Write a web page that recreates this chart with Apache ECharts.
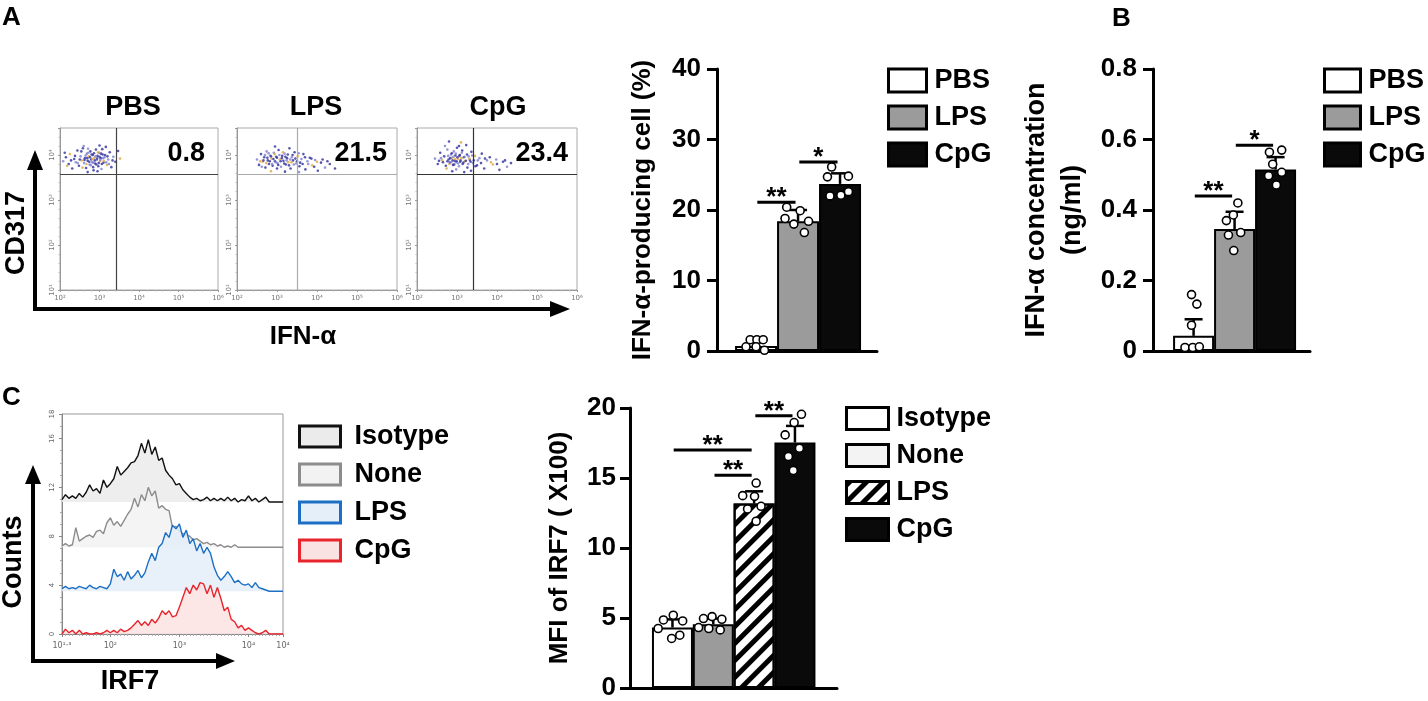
<!DOCTYPE html>
<html>
<head>
<meta charset="utf-8">
<script src="https://cdn.jsdelivr.net/npm/echarts@6.0.0/dist/echarts.min.js"></script>
<style>
* { margin: 0; padding: 0; }
body { background: #fff; width: 1428px; height: 701px; overflow: hidden; }
.layer { position: absolute; left: 0; top: 0; width: 1428px; height: 701px; }
</style>
</head>
<body>
<div id="flow" class="layer"></div>
<div id="barA" class="layer"></div>
<div id="barB" class="layer"></div>
<div id="hist" class="layer"></div>
<div id="barC" class="layer"></div>
<script>
var FONT = '"Liberation Sans", Arial, sans-serif';

// ---- A: flow plots (log10 units) ----
var flowGroups = ['PBS', 'LPS', 'CpG'];
var gatePct = ['0.8', '21.5', '23.4'];
var gateX = [3.42, 3.5, 3.4];
var gateY = 3.58;
var flowPbs = [[2.08,3.86],[2.15,3.95],[2.22,3.80],[2.25,4.02],[2.31,3.70],[2.36,3.91],[2.40,3.84],[2.44,4.10],[2.48,3.76],[2.52,3.97],
  [2.55,3.88],[2.58,4.15],[2.61,3.82],[2.63,3.93],[2.66,3.71],[2.68,4.03],[2.70,3.87],[2.73,3.97],[2.75,3.79],[2.77,4.08],
  [2.79,3.90],[2.81,3.84],[2.83,4.00],[2.85,3.66],[2.87,3.94],[2.89,3.81],[2.91,4.12],[2.93,3.89],[2.95,3.98],[2.97,3.75],
  [2.99,4.05],[3.01,3.86],[3.03,3.93],[3.05,3.69],[3.08,4.01],[3.10,3.83],[3.13,3.95],[3.16,4.18],[3.19,3.78],[3.22,3.90],
  [3.26,4.06],[3.30,3.73],[3.35,3.96],[3.40,3.85],[3.47,4.09],[3.52,3.92],[2.70,3.62],[2.95,3.64],[2.60,4.20],[3.00,4.21],
  [2.62,3.89],[2.65,3.99],[2.67,3.80],[2.69,3.93],[2.72,4.05],[2.74,3.85],[2.76,3.95],[2.78,3.77],[2.80,4.01],[2.82,3.91],
  [2.84,3.83],[2.86,4.04],[2.88,3.88],[2.90,3.97],[2.92,3.79],[2.94,3.92],[2.96,4.06],[2.98,3.82],[3.00,3.96],[3.02,3.89],
  [3.04,4.03],[3.06,3.80],[3.09,3.93],[3.11,3.87],[3.14,4.00],[3.17,3.84],[3.20,3.97],[2.50,3.90],[2.45,3.82],[2.38,3.98],
  [2.57,3.72],[2.71,4.14],[2.84,3.73],[3.07,4.13],[3.24,3.80],[3.33,3.88],[2.28,3.88],[2.18,3.76],[2.12,4.05],[2.54,4.08]];
var flowLps = [[2.50,3.90],[2.55,3.78],[2.60,4.02],[2.64,3.85],[2.68,3.95],[2.71,3.72],[2.74,4.08],[2.77,3.88],[2.80,3.80],[2.83,3.99],
  [2.86,3.92],[2.89,3.76],[2.92,4.05],[2.95,3.86],[2.98,3.96],[3.01,3.82],[3.04,4.11],[3.07,3.90],[3.10,3.74],[3.13,3.98],
  [3.16,3.87],[3.19,4.03],[3.22,3.79],[3.25,3.93],[3.28,3.84],[3.31,4.15],[3.34,3.70],[3.37,3.95],[3.40,3.88],[3.44,4.06],
  [3.48,3.81],[3.52,3.97],[3.56,3.75],[3.61,3.91],[3.66,4.02],[3.71,3.68],[3.76,3.86],[3.82,3.94],[3.88,3.77],[3.95,3.89],
  [4.02,3.65],[4.10,3.83],[4.20,3.72],[4.32,3.80],[4.45,3.70],[2.85,3.64],[3.20,3.63],[2.95,4.19],[3.55,3.62],[3.00,3.70],
  [2.66,3.88],[2.70,4.00],[2.73,3.82],[2.76,3.94],[2.79,4.04],[2.82,3.86],[2.85,3.97],[2.88,3.80],[2.91,3.91],[2.94,4.02],
  [2.97,3.84],[3.00,3.94],[3.03,3.78],[3.06,4.00],[3.09,3.86],[3.12,3.93],[3.15,4.06],[3.18,3.81],[3.21,3.96],[3.24,3.88],
  [3.27,4.01],[3.30,3.77],[3.33,3.90],[3.36,3.84],[3.39,4.00],[3.42,3.79],[3.46,3.92],[3.50,3.86],[3.54,4.04],[3.58,3.83],
  [2.58,3.86],[2.62,3.74],[3.64,3.80],[3.70,3.95],[3.78,3.80],[3.86,3.92],[3.93,3.74],[4.00,3.85],[4.14,3.90],[4.26,3.86]];
var flowCpg = [[2.45,3.92],[2.52,3.80],[2.58,4.05],[2.63,3.88],[2.68,3.97],[2.72,3.76],[2.76,4.12],[2.79,3.90],[2.82,3.83],[2.85,4.01],
  [2.87,3.94],[2.90,3.78],[2.92,4.08],[2.94,3.87],[2.96,3.99],[2.98,3.84],[3.00,4.16],[3.02,3.91],[3.05,3.75],[3.07,4.00],
  [3.09,3.88],[3.12,4.05],[3.14,3.80],[3.17,3.95],[3.20,3.86],[3.23,4.22],[3.26,3.72],[3.29,3.97],[3.32,3.89],[3.36,4.07],
  [3.40,3.82],[3.45,3.98],[3.50,3.77],[3.56,3.93],[3.62,4.03],[3.68,3.70],[3.75,3.88],[3.82,3.95],[3.90,3.79],[3.98,3.90],
  [4.06,3.67],[4.15,3.85],[4.25,3.74],[4.35,3.82],[2.80,4.30],[3.10,4.28],[2.88,3.64],[3.18,3.62],[2.70,4.20],[3.35,3.65],
  [2.76,3.86],[2.78,3.98],[2.81,3.80],[2.83,3.93],[2.85,3.84],[2.87,4.04],[2.89,3.88],[2.91,3.96],[2.93,3.79],[2.95,3.91],
  [2.97,4.03],[2.99,3.86],[3.01,3.95],[3.03,3.81],[3.06,3.98],[3.08,3.85],[3.11,3.93],[3.13,4.10],[3.16,3.83],[3.19,3.96],
  [3.22,3.87],[3.25,4.01],[3.28,3.80],[3.31,3.92],[3.34,3.85],[3.38,3.99],[3.42,3.88],[2.65,3.84],[2.60,3.93],[2.55,3.87],
  [2.74,3.70],[2.98,3.68],[3.05,4.20],[3.46,3.75],[3.52,3.88],[3.60,3.82],[3.70,3.92],[3.85,3.84],[4.00,3.80],[4.20,3.88]];
var flowTicksX = ['10²', '10³', '10⁴', '10⁵', '10⁶'];
var flowTicksY = ['10¹', '10²', '10³', '10⁴'];

// ---- A: IFN-a producing cells (%) ----
var groupsA = ['PBS', 'LPS', 'CpG'];
var meanA = [0.7, 18.4, 23.7];
var sdA = [0.5, 1.6, 1.5];
var dotsA = [[0.6, 1.6, 1.6, 1.6, 0.6, 0.1], [20.4, 18.8, 19.9, 18.4, 18.0, 16.8], [26.1, 24.7, 24.8, 22.0, 22.1, 22.6]];
var jitA = [[-0.24, -0.14, 0.02, 0.17, 0.0, 0.2], [-0.27, -0.31, 0.05, 0.25, -0.1, 0.15], [-0.2, -0.3, 0.2, -0.24, 0.02, 0.2]];
var sigA = [[0, 1, 21.1, '**'], [1, 2, 26.8, '*']];

// ---- B: IFN-a concentration (ng/ml) ----
var groupsB = ['PBS', 'LPS', 'CpG'];
var meanB = [0.043, 0.346, 0.515];
var sdB = [0.047, 0.049, 0.035];
var dotsB = [[0.16, 0.133, 0.073, 0.01, 0.01, 0.012], [0.42, 0.37, 0.386, 0.329, 0.336, 0.285], [0.564, 0.57, 0.53, 0.497, 0.507, 0.471]];
var jitB = [[-0.05, 0.08, -0.05, -0.21, -0.02, 0.14], [0.08, -0.2, -0.03, -0.15, 0.15, -0.02], [-0.15, 0.15, -0.07, -0.17, 0.15, 0.02]];
var sigB = [[0, 1, 0.44, '**'], [1, 2, 0.584, '*']];

// ---- C: IRF7 histograms ----
var histNames = ['Isotype', 'None', 'LPS', 'CpG'];
var histOffset = [10.8, 7.1, 3.5, 0];
var irf7Bins = [1.30,1.35,1.40,1.45,1.50,1.55,1.60,1.65,1.70,1.75,1.80,1.85,1.90,1.95,2.00,2.05,2.10,2.15,2.20,2.25,
  2.30,2.35,2.40,2.45,2.50,2.55,2.60,2.65,2.70,2.75,2.80,2.85,2.90,2.95,3.00,3.05,3.10,3.15,3.20,3.25,
  3.30,3.35,3.40,3.45,3.50,3.55,3.60,3.65,3.70,3.75,3.80,3.85,3.90,3.95,4.00,4.05,4.10,4.15,4.20,4.25,
  4.30,4.35,4.40,4.45,4.50];
var countIsotype = [0.2,0.6,0.3,0.5,0.3,0.7,0.4,0.8,1.4,0.9, 1.1,0.7,1.8,1.2,1.5,1.9,2.9,2.2,2.5,2.8,
  3.2,3.3,3.8,4.8,4.0,5.1,3.9,4.5,3.4,3.6, 2.6,2.2,1.9,1.4,1.5,1.0,0.7,0.4,0.2,0.3,
  0.1,0.2,0.4,0.1,0.3,0.1,0.3,0.1,0.4,0.1, 0.3,0.0,0.2,0.1,0.5,0.1,0.3,0.0,0.2,0.4, 0,0,0,0,0];
var countNone = [0.1,0.3,0.1,0.2,1.6,0.5,0.7,0.9,1.0,0.8, 1.3,1.4,1.1,2.0,2.4,1.8,2.1,1.7,2.2,2.7,
  3.1,4.0,3.3,4.3,3.8,4.9,4.2,4.6,3.2,3.4, 3.1,3.0,1.6,1.7,1.3,1.1,1.0,0.9,0.6,0.7,
  0.5,0.3,0.4,0.2,0.3,0.1,0.2,0.0,0.1,0.0, 0.2,0,0,0,0,0,0,0,0,0, 0,0,0,0,0];
var countLps = [0.2,0.4,0.2,0.3,0.2,0.4,0.3,0.2,0.5,0.3, 0.2,0.4,0.3,0.2,0.6,1.8,1.2,1.4,0.9,1.6,
  1.0,1.3,1.7,1.1,1.5,2.4,3.1,2.5,3.6,3.9, 4.8,4.4,5.4,5.1,5.5,4.4,5.0,3.9,4.3,3.3,
  3.9,3.1,3.6,3.1,2.0,1.3,0.9,1.2,1.6,1.2, 0.7,0.9,0.6,0.5,0.6,0.3,0.7,0.3,0.2,0.1, 0,0,0,0,0];
var countCpg = [0.0,0.4,0.1,0.3,0.0,0.3,0.0,0.1,0.0,0.0, 0.1,0.0,0.1,0.3,0.1,0.3,0.1,0.4,0.2,0.3,
  0.5,0.8,1.1,0.7,1.0,0.7,1.2,0.9,1.3,1.9, 1.6,1.9,1.4,1.5,2.2,3.0,3.8,3.3,4.0,3.6,
  4.2,4.1,3.3,4.0,3.0,3.8,2.9,1.9,2.2,1.2, 1.0,0.5,0.7,0.3,0.5,0.3,0.1,0.0,0.1,0.3, 0,0,0,0,0];
var histTickX = [1.3, 2, 3, 4, 4.5];
var histTickXLabels = ['10¹·³', '10²', '10³', '10⁴', '10⁴'];

// ---- C: MFI of IRF7 (x100) ----
var groupsC = ['Isotype', 'None', 'LPS', 'CpG'];
var meanC = [4.32, 4.55, 13.17, 17.53];
var sdC = [0.58, 0.41, 0.88, 1.19];
var dotsC = [[5.2, 4.86, 4.79, 4.25, 3.54, 3.77], [4.96, 5.1, 4.91, 4.32, 4.25, 4.15],
  [14.64, 13.69, 13.74, 12.79, 12.98, 11.91], [19.55, 18.96, 18.08, 17.13, 16.54, 15.54]];
var jitC = [[0.02, -0.22, 0.25, -0.35, -0.02, 0.18], [-0.24, -0.03, 0.21, -0.36, -0.11, 0.17],
  [0.05, 0.01, -0.28, -0.16, 0.17, 0.05], [0.16, -0.02, -0.24, 0.11, -0.16, -0.04]];
var sigC = [[0, 2, 17.0, '**'], [1, 2, 15.2, '**'], [2, 3, 19.45, '**']];

function txt(x, y, s, size, extra) {
    var el = {
        type: 'text', x: x, y: y, silent: true,
        style: { text: s, font: 'bold ' + size + 'px ' + FONT, fill: '#000',
                 textAlign: 'center', textVerticalAlign: 'middle', align: 'center', verticalAlign: 'middle' }
    };
    if (extra) {
        for (var k in extra) {
            if (k === 'style') { for (var s2 in extra.style) el.style[s2] = extra.style[s2]; }
            else el[k] = extra[k];
        }
    }
    return el;
}

function arrowAxes(x0, y0, yTip, xTip, head) {
    return [
        { type: 'polyline', silent: true, shape: { points: [[x0, yTip + head - 2], [x0, y0], [xTip - head + 2, y0]] },
          style: { stroke: '#000', lineWidth: 4, fill: null, lineJoin: 'miter' } },
        { type: 'polygon', silent: true, shape: { points: [[x0 - 8, yTip + head], [x0 + 8, yTip + head], [x0, yTip]] }, style: { fill: '#000' } },
        { type: 'polygon', silent: true, shape: { points: [[xTip - head, y0 - 8], [xTip - head, y0 + 8], [xTip, y0]] }, style: { fill: '#000' } }
    ];
}

// ---------------- flow cytometry panels ----------------
(function () {
    var chart = echarts.init(document.getElementById('flow'));
    var lefts = [60, 237, 417];
    var widths = [158, 160, 160];
    var gateColor = ['#444', '#aaa', '#333'];
    var flowData = [flowPbs, flowLps, flowCpg];
    var grids = [], xs = [], ys = [], series = [];
    for (var i = 0; i < 3; i++) {
        grids.push({ left: lefts[i], top: 128, width: widths[i], height: 162, show: true, borderColor: '#aaa', borderWidth: 1 });
        xs.push({
            gridIndex: i, type: 'value', min: 2, max: 6, interval: 1,
            axisLine: { lineStyle: { color: '#999', width: 1 } },
            axisTick: { length: 2, lineStyle: { color: '#999' } },
            minorTick: { show: true, splitNumber: 5, length: 1.5, lineStyle: { color: '#bbb' } },
            axisLabel: { fontSize: 7, color: '#777', margin: 5, fontFamily: 'DejaVu Sans',
                formatter: function (v) { return flowTicksX[Math.round(v) - 2] || ''; } },
            splitLine: { show: false }
        });
        ys.push({
            gridIndex: i, type: 'value', min: 1, max: 4.6, interval: 1,
            axisLine: { lineStyle: { color: '#999', width: 1 } },
            axisTick: { length: 2, lineStyle: { color: '#999' } },
            minorTick: { show: true, splitNumber: 5, length: 1.5, lineStyle: { color: '#bbb' } },
            axisLabel: { fontSize: 7, color: '#777', margin: 4, rotate: 90, fontFamily: 'DejaVu Sans',
                formatter: function (v) { return Math.abs(v - Math.round(v)) < 1e-6 ? (flowTicksY[Math.round(v) - 1] || '') : ''; } },
            splitLine: { show: false }
        });
        series.push({
            type: 'scatter', xAxisIndex: i, yAxisIndex: i, data: flowData[i], symbolSize: 2.6,
            itemStyle: { opacity: 0.8, color: function (p) {
                return p.dataIndex % 7 === 3 ? '#e0a53c' : (p.dataIndex % 3 === 0 ? '#7c7cd2' : '#2e2e9c');
            } },
            markLine: { silent: true, symbol: 'none', animation: false, label: { show: false },
                lineStyle: { color: gateColor[i], width: 1.2, type: 'solid' },
                data: [{ xAxis: gateX[i] }, { yAxis: gateY }] }
        });
    }
    var gfx = [
        txt(2, 5, 'A', 26, { style: { textAlign: 'left', align: 'left', textVerticalAlign: 'top', verticalAlign: 'top' } }),
        txt(17, 233, 'CD317', 27, { rotation: Math.PI / 2 }),
        txt(303, 337, 'IFN-α', 26)
    ].concat(arrowAxes(35, 309, 150, 570, 20));
    var titleX = [133, 316, 498];
    var pctRight = [205, 387, 568];
    for (var j = 0; j < 3; j++) {
        gfx.push(txt(titleX[j], 108, flowGroups[j], 27));
        gfx.push(txt(pctRight[j], 154, gatePct[j], 27, { style: { textAlign: 'right', align: 'right' } }));
    }
    chart.setOption({ animation: false, grid: grids, xAxis: xs, yAxis: ys, series: series, graphic: gfx });
})();

// ---------------- bar charts ----------------
function barChart(el, cfg) {
    var chart = echarts.init(document.getElementById(el));
    var series = [];
    cfg.groups.forEach(function (g, i) {
        var st = { borderColor: '#000', borderWidth: 2 };
        for (var k in cfg.styles[i]) st[k] = cfg.styles[i][k];
        series.push({ type: 'bar', name: g, barWidth: cfg.barWidth, barGap: '-100%', data: [[i, cfg.mean[i]]], itemStyle: st, z: 2 });
    });
    series.push({
        type: 'custom', z: 3, silent: true,
        data: cfg.mean.map(function (m, i) { return [i, m, m + cfg.sd[i]]; }),
        renderItem: function (params, api) {
            var lo = api.coord([api.value(0), api.value(1)]);
            var hi = api.coord([api.value(0), api.value(2)]);
            var st = { stroke: '#000', lineWidth: 2.5 };
            return { type: 'group', children: [
                { type: 'line', shape: { x1: lo[0], y1: lo[1], x2: hi[0], y2: hi[1] }, style: st },
                { type: 'line', shape: { x1: hi[0] - 9, y1: hi[1], x2: hi[0] + 9, y2: hi[1] }, style: st }
            ] };
        }
    });
    var pts = [];
    cfg.dots.forEach(function (vals, i) {
        vals.forEach(function (v, k) { pts.push([i + cfg.jit[i][k], v]); });
    });
    series.push({ type: 'scatter', z: 4, silent: true, data: pts, symbolSize: 8,
        itemStyle: { color: '#fff', borderColor: '#000', borderWidth: 1.6, opacity: 1 } });
    series.push({
        type: 'custom', z: 5, silent: true, data: cfg.sig.map(function (s) { return [s[0], s[1], s[2]]; }),
        renderItem: function (params, api) {
            var a = api.coord([api.value(0) + 0.03, api.value(2)]);
            var b = api.coord([api.value(1) - 0.06, api.value(2)]);
            return { type: 'group', children: [
                { type: 'line', shape: { x1: a[0], y1: a[1], x2: b[0], y2: b[1] }, style: { stroke: '#000', lineWidth: 3 } },
                { type: 'text', x: (a[0] + b[0]) / 2, y: a[1] - 4,
                  style: { text: cfg.sig[params.dataIndex][3], font: 'bold 26px ' + FONT, fill: '#000',
                           textAlign: 'center', align: 'center', textVerticalAlign: 'middle', verticalAlign: 'middle' } }
            ] };
        }
    });
    var axisLine = { show: true, onZero: false, lineStyle: { color: '#000', width: 3 } };
    chart.setOption({
        animation: false,
        grid: cfg.grid,
        legend: {
            orient: 'vertical', left: cfg.legend.left, top: cfg.legend.top, padding: 0,
            itemWidth: cfg.legend.w, itemHeight: cfg.legend.h, itemGap: cfg.legend.gap, icon: 'rect',
            selectedMode: false, data: cfg.legend.data,
            itemStyle: { borderColor: '#000', borderWidth: 3 },
            textStyle: { fontFamily: FONT, fontSize: 27, fontWeight: 'bold', color: '#000', lineHeight: cfg.legend.h, padding: [0, 0, 0, 3] }
        },
        xAxis: { type: 'value', min: cfg.xMin, max: cfg.xMax, axisLine: axisLine,
            axisTick: { show: false }, axisLabel: { show: false }, splitLine: { show: false } },
        yAxis: {
            type: 'value', min: 0, max: cfg.yMax, interval: cfg.yStep,
            name: cfg.yName, nameLocation: 'middle', nameGap: cfg.nameGap, nameRotate: 90,
            nameTextStyle: { fontFamily: FONT, fontSize: cfg.nameSize, fontWeight: 'bold', color: '#000', lineHeight: 36 },
            axisLine: axisLine,
            axisTick: { show: true, length: 10, lineStyle: { color: '#000', width: 3 } },
            axisLabel: { fontFamily: FONT, fontSize: 26, fontWeight: 'bold', color: '#000', margin: cfg.labelMargin },
            splitLine: { show: false }
        },
        series: series,
        graphic: cfg.graphic || []
    });
}

var PBS_STYLE = { color: '#ffffff' }, LPS_STYLE = { color: '#9b9b9b' }, CPG_STYLE = { color: '#0a0a0a' };

barChart('barA', {
    groups: groupsA, mean: meanA, sd: sdA, dots: dotsA, jit: jitA, sig: sigA,
    styles: [PBS_STYLE, LPS_STYLE, CPG_STYLE], barWidth: 42,
    grid: { left: 717, top: 69, width: 160, height: 282 },
    xMin: -0.93, xMax: 2.88, yMax: 40, yStep: 10,
    yName: 'IFN-α-producing cell (%)', nameGap: 56, nameSize: 26, labelMargin: 16,
    legend: { left: 887, top: 67, w: 38, h: 23, gap: 10, data: groupsA }
});

barChart('barB', {
    groups: groupsB, mean: meanB, sd: sdB, dots: dotsB, jit: jitB, sig: sigB,
    styles: [PBS_STYLE, LPS_STYLE, CPG_STYLE], barWidth: 41,
    grid: { left: 1153, top: 69, width: 157, height: 282 },
    xMin: -0.99, xMax: 2.84, yMax: 0.8, yStep: 0.2,
    yName: 'IFN-α concentration\n(ng/ml)', nameGap: 62, nameSize: 27, labelMargin: 16,
    legend: { left: 1323, top: 67, w: 36, h: 23, gap: 10, data: groupsB },
    graphic: [txt(1112, 6, 'B', 26, { style: { textAlign: 'left', align: 'left', textVerticalAlign: 'top', verticalAlign: 'top' } })]
});

barChart('barC', {
    groups: groupsC, mean: meanC, sd: sdC, dots: dotsC, jit: jitC, sig: sigC,
    styles: [{ color: '#ffffff' }, { color: '#9b9b9b' },
        { color: '#ffffff', decal: { symbol: 'rect', symbolSize: 1, dashArrayX: [1, 0], dashArrayY: [5, 7], rotation: -Math.PI / 4, color: '#000' } },
        { color: '#0a0a0a' }],
    barWidth: 41,
    grid: { left: 630, top: 408, width: 207, height: 281 },
    xMin: -1.04, xMax: 4.03, yMax: 20, yStep: 5,
    yName: 'MFI of IRF7 ( X100)', nameGap: 52, nameSize: 26, labelMargin: 14,
    legend: { left: 845, top: 405, w: 42, h: 22, gap: 10,
        data: ['Isotype', { name: 'None', itemStyle: { color: '#f3f3f3' } }, 'LPS', 'CpG'] }
});

// ---------------- C: histograms ----------------
(function () {
    var chart = echarts.init(document.getElementById('hist'));
    var histCounts = [countIsotype, countNone, countLps, countCpg];
    var histLine = ['#111111', '#8c8c8c', '#1c6fc4', '#e8242c'];
    var histFill = ['#ebebeb', '#f2f2f2', '#e4eff9', '#fbe2e2'];
    var series = histNames.map(function (n, i) {
        return {
            type: 'line', name: n, symbol: 'none', z: 2 + i,
            data: irf7Bins.map(function (b, k) { return [b, histOffset[i] + histCounts[i][k]]; }),
            lineStyle: { color: histLine[i], width: 1.4 },
            areaStyle: { color: histFill[i], origin: histOffset[i], opacity: 0.85 }
        };
    });
    var gfx = [
        txt(2, 385, 'C', 26, { style: { textAlign: 'left', align: 'left', textVerticalAlign: 'top', verticalAlign: 'top' } }),
        txt(14, 562, 'Counts', 27, { rotation: Math.PI / 2 }),
        txt(130, 682, 'IRF7', 27)
    ].concat(arrowAxes(33, 661, 465, 235, 19));
    chart.setOption({
        animation: false,
        grid: { left: 62, top: 414, width: 221, height: 220, show: true, borderColor: '#999', borderWidth: 1 },
        legend: {
            orient: 'vertical', left: 298, top: 423, padding: 0, itemWidth: 41, itemHeight: 21, itemGap: 11,
            icon: 'rect', selectedMode: false,
            data: histNames.map(function (n, i) {
                return { name: n, itemStyle: { color: histFill[i], borderColor: histLine[i], borderWidth: 3 } };
            }),
            textStyle: { fontFamily: FONT, fontSize: 27, fontWeight: 'bold', color: '#000', lineHeight: 21, padding: [0, 0, 0, 9] }
        },
        xAxis: {
            type: 'value', min: 1.3, max: 4.5,
            axisLine: { onZero: false, lineStyle: { color: '#888', width: 1 } },
            axisTick: { length: 3, customValues: histTickX, lineStyle: { color: '#888' } },
            minorTick: { show: true, splitNumber: 10, length: 2, lineStyle: { color: '#aaa' } },
            axisLabel: { customValues: histTickX, fontSize: 8, color: '#666', margin: 8, fontFamily: 'DejaVu Sans',
                formatter: function (v) { return histTickXLabels[histTickX.indexOf(v)] || ''; } },
            splitLine: { show: false }
        },
        yAxis: {
            type: 'value', min: 0, max: 18, interval: 4,
            axisLine: { lineStyle: { color: '#888', width: 1 } },
            axisTick: { length: 3, lineStyle: { color: '#888' } },
            minorTick: { show: true, splitNumber: 4, length: 2, lineStyle: { color: '#aaa' } },
            axisLabel: { fontSize: 7, color: '#666', margin: 6, rotate: 90, fontFamily: 'DejaVu Sans' },
            splitLine: { show: false }
        },
        series: series,
        graphic: gfx
    });
})();
</script>
</body>
</html>
